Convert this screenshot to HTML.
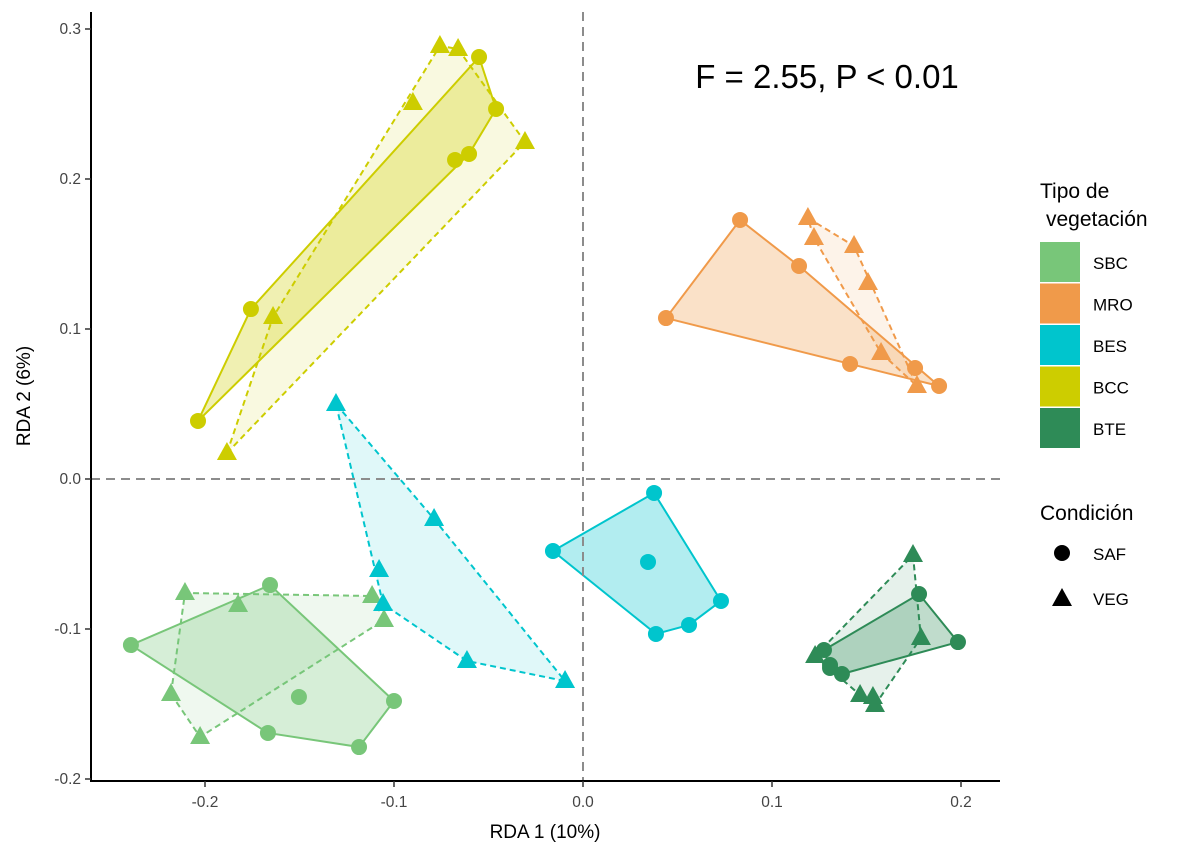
<!DOCTYPE html>
<html><head><meta charset="utf-8"><style>
body{margin:0;background:#fff;}
svg text{font-family:"Liberation Sans",Arial,sans-serif;}
</style></head><body>
<svg id="chart" width="1200" height="857" xmlns="http://www.w3.org/2000/svg">
<g id="hulls"></g>
<g id="pts"></g>
<g id="axes"></g>
<text x="827" y="88" font-size="33" text-anchor="middle" fill="#000">F = 2.55, P &lt; 0.01</text>
<g>
<text x="1040" y="198" font-size="21">Tipo de</text>
<text x="1046" y="226" font-size="21">vegetación</text>
</g>
<g id="leg"></g>
<g>
<text x="1040" y="520" font-size="21">Condición</text>
<circle cx="1062" cy="553" r="8" fill="#000"/>
<text x="1093" y="560" font-size="17">SAF</text>
<polygon points="1062,588 1072,606 1052,606" fill="#000"/>
<text x="1093" y="605" font-size="17">VEG</text>
</g>
</svg>
<script>
const groups=["SBC","MRO","BES","BCC","BTE"];
const colors=["#78C679","#F09A4A","#00C5CD","#CDCD00","#2E8B57"];
const xTicks=[-0.2,-0.1,0.0,0.1,0.2];
const yTicks=[-0.2,-0.1,0.0,0.1,0.2,0.3];
const safX={SBC:[-0.2392,-0.1656,-0.1503,-0.1667,-0.1185,-0.1],MRO:[0.0439,0.0831,0.1143,0.1413,0.1757,0.1884],BES:[-0.0159,0.0376,0.0344,0.0386,0.0561,0.073],BCC:[-0.2037,-0.1757,-0.0677,-0.0603,-0.046,-0.055],BTE:[0.1778,0.1984,0.1275,0.1307,0.137,0.1307]};
const safY={SBC:[-0.1107,-0.0707,-0.1453,-0.1693,-0.1787,-0.148],MRO:[0.1073,0.1727,0.142,0.0767,0.074,0.062],BES:[-0.048,-0.0093,-0.0553,-0.1033,-0.0973,-0.0813],BCC:[0.0387,0.1133,0.2127,0.2167,0.2467,0.2813],BTE:[-0.0767,-0.1087,-0.114,-0.124,-0.13,-0.126]};
const vegX={SBC:[-0.2106,-0.1825,-0.1116,-0.1053,-0.218,-0.2026],MRO:[0.119,0.1222,0.1434,0.1508,0.1577,0.1767],BES:[-0.1307,-0.0788,-0.1079,-0.1058,-0.0614,-0.0095],BCC:[-0.1884,-0.164,-0.09,-0.0757,-0.0661,-0.0307],BTE:[0.1746,0.1788,0.1228,0.1466,0.1545,0.1534]};
const vegY={SBC:[-0.076,-0.084,-0.078,-0.094,-0.1433,-0.172],MRO:[0.174,0.1607,0.1553,0.1307,0.084,0.062],BES:[0.05,-0.0267,-0.0607,-0.0833,-0.1213,-0.1347],BCC:[0.0173,0.108,0.2507,0.2887,0.2867,0.2247],BTE:[-0.0507,-0.106,-0.118,-0.144,-0.1507,-0.1453]};
const sx=v=>583+v*1890, sy=v=>479-v*1500;
const NS="http://www.w3.org/2000/svg";
function mk(t,a,p){const e=document.createElementNS(NS,t);for(const k in a)e.setAttribute(k,a[k]);p.appendChild(e);return e;}
function hull(P){P=P.slice().sort((a,b)=>a[0]-b[0]||a[1]-b[1]);const c=(o,a,b)=>(a[0]-o[0])*(b[1]-o[1])-(a[1]-o[1])*(b[0]-o[0]);const L=[],U=[];for(const p of P){while(L.length>=2&&c(L[L.length-2],L[L.length-1],p)<=0)L.pop();L.push(p);}for(let i=P.length-1;i>=0;i--){const p=P[i];while(U.length>=2&&c(U[U.length-2],U[U.length-1],p)<=0)U.pop();U.push(p);}U.pop();L.pop();return L.concat(U);}
const H=document.getElementById('hulls'),PT=document.getElementById('pts'),AX=document.getElementById('axes'),LG=document.getElementById('leg');
let l=mk('line',{x1:91,x2:1000,y1:sy(0),y2:sy(0),stroke:'#8c8c8c','stroke-width':2,'stroke-dasharray':'9,6'},AX);

l=mk('line',{x1:sx(0),x2:sx(0),y1:12,y2:781,stroke:'#8c8c8c','stroke-width':2,'stroke-dasharray':'9,6'},AX);

groups.forEach((g,gi)=>{
  const col=colors[gi];
  const sp=safX[g].map((x,i)=>[sx(x),sy(safY[g][i])]);
  const vp=vegX[g].map((x,i)=>[sx(x),sy(vegY[g][i])]);
  let e=mk('polygon',{points:hull(vp).map(p=>p.join(',')).join(' '),fill:col,'fill-opacity':0.12,stroke:col,'stroke-width':2,'stroke-dasharray':'6,4'},H);
  
  e=mk('polygon',{points:hull(sp).map(p=>p.join(',')).join(' '),fill:col,'fill-opacity':0.3,stroke:col,'stroke-width':2},H);
  
  sp.forEach(p=>{const c=mk('circle',{cx:p[0],cy:p[1],r:8,fill:col},PT);
    });
  vp.forEach(p=>{const t=mk('polygon',{points:`${p[0]},${p[1]-11} ${p[0]+10},${p[1]+7} ${p[0]-10},${p[1]+7}`,fill:col},PT);
    });
  const y0=242+gi*41.5;
  e=mk('rect',{x:1040,y:y0,width:40,height:40,fill:col},LG);
  
  e=mk('text',{x:1093,y:y0+27,'font-size':17},LG);e.textContent=g;
  
});
l=mk('line',{x1:91,x2:91,y1:12,y2:782,stroke:'#000','stroke-width':2},AX);

l=mk('line',{x1:90,x2:1000,y1:781,y2:781,stroke:'#000','stroke-width':2},AX);

xTicks.forEach(v=>{const x=sx(v);
  let t=mk('line',{x1:x,x2:x,y1:781,y2:787,stroke:'#333','stroke-width':1.5},AX);
  
  t=mk('text',{x:x,y:807,'font-size':15.5,'text-anchor':'middle',fill:'#444'},AX);t.textContent=v.toFixed(1);
  });
yTicks.forEach(v=>{const y=sy(v);
  let t=mk('line',{x1:85,x2:91,y1:y,y2:y,stroke:'#333','stroke-width':1.5},AX);
  
  t=mk('text',{x:81,y:y+5,'font-size':15.5,'text-anchor':'end',fill:'#444'},AX);t.textContent=v.toFixed(1);
  });
let t=mk('text',{x:545,y:838,'font-size':19,'text-anchor':'middle'},AX);t.textContent='RDA 1 (10%)';

t=mk('text',{x:0,y:0,'font-size':19,'text-anchor':'middle',transform:'translate(30,396) rotate(-90)'},AX);t.textContent='RDA 2 (6%)';

</script>
</body></html>
